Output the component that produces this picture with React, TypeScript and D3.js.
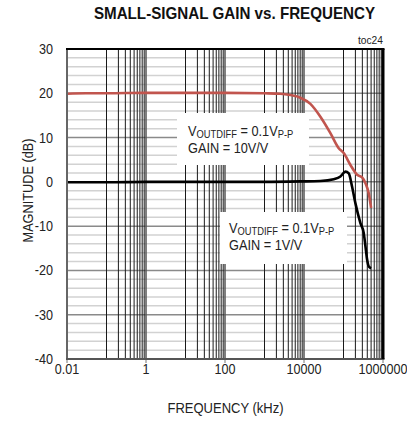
import React from "react";
import * as d3 from "d3";

const title = "SMALL-SIGNAL GAIN vs. FREQUENCY";
const xTitle = "FREQUENCY (kHz)";
const yTitle = "MAGNITUDE (dB)";
const xTickValues = [0.01, 1, 100, 10000, 1000000];
const xTickLabels = ["0.01", "1", "100", "10000", "1000000"];
const yTickValues = [30, 20, 10, 0, -10, -20, -30, -40];
const minorDecades = [0.1, 10, 1000, 100000];

const redFreq = [0.01, 0.03, 0.1, 1, 10, 100, 1000, 2500, 4500, 8100, 14500, 26000, 46600, 75700, 101000, 150000, 221000, 296000, 360000, 436000, 500000];
const redDb = [19.9, 20.0, 20.0, 20.1, 20.1, 20.1, 20.0, 19.9, 19.6, 19.0, 17.6, 14.7, 11.0, 7.6, 6.5, 3.8, 1.6, 1.0, -0.3, -2.6, -5.9];

const blackFreq = [0.01, 0.1, 1, 10, 100, 1000, 8100, 26000, 56500, 83600, 112000, 136000, 165000, 200000, 268000, 326000, 360000, 397000, 436000, 500000];
const blackDb = [-0.1, -0.1, 0, 0, 0, 0, 0.1, 0.2, 0.6, 1.2, 2.3, 1.9, -1.1, -4.8, -9.3, -11.6, -14.6, -17.6, -19.1, -19.5];

const FONT = "'Liberation Sans', Arial, sans-serif";

const T = ({ x, y, sx = 0.9, anchor = "start", size = 14, weight = "normal", rotate = 0, children, fill = "#222" }: any) => (
  <text
    transform={`translate(${x},${y})${rotate ? ` rotate(${rotate})` : ""} scale(${sx},1)`}
    textAnchor={anchor}
    fontSize={size}
    fontWeight={weight}
    fontFamily={FONT}
    fill={fill}
  >
    {children}
  </text>
);

export default function App() {
  const x = d3.scaleLog().domain([0.01, 1000000]).range([67, 383]);
  const y = d3.scaleLinear().domain([-40, 30]).range([359, 49]);

  const vMinor: number[] = [];
  minorDecades.forEach((d) => {
    for (let m = 1; m <= 9; m++) vMinor.push(d * m);
  });
  const hLines = d3.range(-40, 31, 2);

  const line = d3
    .line<[number, number]>()
    .x((d) => x(d[0]))
    .y((d) => y(d[1]))
    .curve(d3.curveMonotoneX);

  const red = line(redFreq.map((f, i) => [f, redDb[i]]));
  const black = line(blackFreq.map((f, i) => [f, blackDb[i]]));

  const [x0, x1] = x.range();
  const [yb, yt] = y.range();

  return (
    <svg width={407} height={421} style={{ position: "absolute", left: 0, top: 0, background: "#fff" }}>
      <rect x={0} y={0} width={407} height={421} fill="#fff" />
      {hLines.map((v) => (
        <line key={"h" + v} x1={x0} x2={x1} y1={y(v)} y2={y(v)} stroke={v % 10 === 0 ? "#8a8a8a" : "#d2d2d2"} strokeWidth={1.5} />
      ))}
      {vMinor.map((v, i) => (
        <line key={"v" + i} x1={x(v)} x2={x(v)} y1={yt} y2={yb} stroke="#1a1a1a" strokeWidth={1} />
      ))}
      {xTickValues.map((v) => (
        <line key={"m" + v} x1={x(v)} x2={x(v)} y1={yt} y2={yb} stroke="#555" strokeWidth={1.5} />
      ))}
      {xTickValues.map((v) => (
        <line key={"t" + v} x1={x(v)} x2={x(v)} y1={yb} y2={yb + 4} stroke="#777" strokeWidth={1} />
      ))}

      <rect x={177} y={113} width={132} height={52} fill="#fff" />
      <rect x={220} y={212} width={127} height={52} fill="#fff" />

      <path d={red || ""} fill="none" stroke="#c1554e" strokeWidth={2.6} strokeLinejoin="round" />
      <path d={black || ""} fill="none" stroke="#000" strokeWidth={2.6} strokeLinejoin="round" />

      <line x1={x0} x2={x0} y1={yt} y2={yb} stroke="#666" strokeWidth={2} />
      <line x1={x0 - 1} x2={x1 + 1.5} y1={yb} y2={yb} stroke="#555" strokeWidth={2} />
      <line x1={x0 - 1} x2={x1 + 1.5} y1={yt} y2={yt} stroke="#000" strokeWidth={2} />
      <line x1={x1} x2={x1} y1={yt} y2={yb} stroke="#000" strokeWidth={3} />

      <T x={234.5} y={18.5} size={16.5} weight="bold" sx={0.92} anchor="middle" fill="#111">{title}</T>
      <T x={383} y={44} size={11} sx={0.93} anchor="end">toc24</T>

      {yTickValues.map((v) => (
        <T key={"yl" + v} x={53} y={y(v) + 5} anchor="end">{v}</T>
      ))}
      {xTickValues.map((v, i) => (
        <T key={"xl" + v} x={x(v)} y={374} anchor="middle">{xTickLabels[i]}</T>
      ))}
      <T x={225.5} y={412.5} anchor="middle" sx={0.93}>{xTitle}</T>
      <T x={32.5} y={190.5} anchor="middle" sx={0.91} rotate={-90}>{yTitle}</T>

      <text transform="translate(188,136) scale(0.85,1)" fontSize={15} fontFamily={FONT} fill="#222">
        V<tspan fontSize={11} dy={1.5}>OUTDIFF</tspan>
        <tspan dy={-1.5}> = 0.1V</tspan>
        <tspan fontSize={11} dy={1.5}>P-P</tspan>
      </text>
      <T x={188} y={153} size={15} sx={0.85}>GAIN = 10V/V</T>

      <text transform="translate(229,233) scale(0.85,1)" fontSize={15} fontFamily={FONT} fill="#222">
        V<tspan fontSize={11} dy={1.5}>OUTDIFF</tspan>
        <tspan dy={-1.5}> = 0.1V</tspan>
        <tspan fontSize={11} dy={1.5}>P-P</tspan>
      </text>
      <T x={229} y={250} size={15} sx={0.85}>GAIN = 1V/V</T>
    </svg>
  );
}
